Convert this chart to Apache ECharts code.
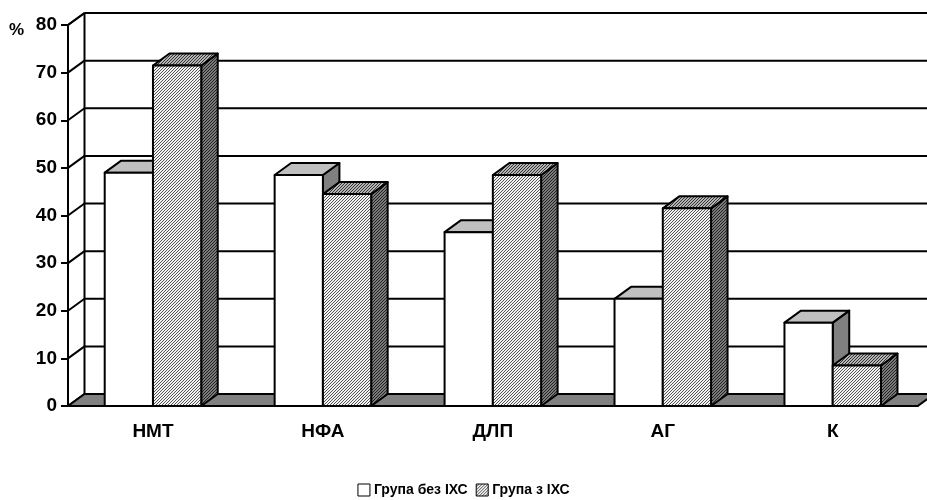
<!DOCTYPE html>
<html>
<head>
<meta charset="utf-8">
<script src="https://cdn.jsdelivr.net/npm/echarts@6/dist/echarts.min.js"></script>
<style>
  html, body { margin: 0; padding: 0; background: #fff; }
  #chart { width: 927px; height: 500px; }
</style>
</head>
<body>
<div id="chart"></div>
<script>
// Categories and values (%)
const categories = ['НМТ', 'НФА', 'ДЛП', 'АГ', 'К'];
const seriesNames = ['Група без ІХС', 'Група з ІХС'];
const withoutIHD = [49, 48.5, 36.5, 22.5, 17.5];
const withIHD = [71.5, 44.5, 48.5, 41.5, 8.5];
const yTicks = [0, 10, 20, 30, 40, 50, 60, 70, 80];

// 3D depth offset of the plot box
const DX = 16.5, DY = -12;
const BAR_RATIO = 0.284;
const FONT = 'Arial, "Liberation Sans", sans-serif';

// Fine diagonal hatch tile used for the second group
function hatch(bg, line) {
  const c = document.createElement('canvas');
  c.width = 3; c.height = 3;
  const g = c.getContext('2d');
  g.fillStyle = bg; g.fillRect(0, 0, 3, 3);
  g.fillStyle = line;
  for (let i = 0; i < 3; i++) g.fillRect(i, 2 - i, 1, 1);
  return { image: c, repeat: 'repeat' };
}
const hatchFront = hatch('#f2f2f2', '#555555');
const hatchTop = hatch('#b4b4b4', '#333333');
const hatchSide = hatch('#7a7a7a', '#222222');

const faces = [
  { front: '#ffffff', top: '#c0c0c0', side: '#808080' },
  { front: hatchFront, top: hatchTop, side: hatchSide }
];

const LINE = { stroke: '#000', lineWidth: 2 };

function plotBounds(api) {
  const band = api.size([1, 0])[0];
  const x0 = api.coord([0, 0])[0] - band / 2;
  const x1 = api.coord([categories.length - 1, 0])[0] + band / 2;
  return { band, x0, x1 };
}

// Back wall and its outline
function renderWall(params, api) {
  const b = plotBounds(api);
  const y0 = api.coord([0, 0])[1];
  const yTop = api.coord([0, yTicks[yTicks.length - 1]])[1];
  return {
    type: 'group',
    children: [
      { type: 'rect', shape: { x: b.x0 + DX, y: yTop + DY, width: b.x1 - b.x0 + 40, height: y0 - yTop },
        style: { fill: '#fff' } },
      { type: 'line', shape: { x1: b.x0 + DX, y1: yTop + DY, x2: b.x1 + DX + 40, y2: yTop + DY }, style: LINE },
      { type: 'line', shape: { x1: b.x0 + DX, y1: yTop + DY, x2: b.x0 + DX, y2: y0 + DY }, style: LINE },
      { type: 'line', shape: { x1: b.x0, y1: yTop, x2: b.x0 + DX, y2: yTop + DY }, style: LINE }
    ]
  };
}

// Gridlines on the back wall and the side wall
function renderGrid(params, api) {
  const b = plotBounds(api);
  const y = api.coord([0, api.value(1)])[1];
  return {
    type: 'group',
    children: [
      { type: 'line', shape: { x1: b.x0 + DX, y1: y + DY, x2: b.x1 + DX + 40, y2: y + DY }, style: LINE },
      { type: 'line', shape: { x1: b.x0, y1: y, x2: b.x0 + DX, y2: y + DY }, style: LINE }
    ]
  };
}

function renderFloor(params, api) {
  const b = plotBounds(api);
  const y0 = api.coord([0, 0])[1];
  return {
    type: 'polygon',
    shape: { points: [[b.x0, y0], [b.x1, y0], [b.x1 + DX, y0 + DY], [b.x0 + DX, y0 + DY]] },
    style: { fill: '#808080', stroke: '#000', lineWidth: 2 }
  };
}

function barRenderer(idx) {
  return function (params, api) {
    const cat = api.value(0);
    const top = api.coord([cat, api.value(1)]);
    const base = api.coord([cat, 0]);
    const w = api.size([1, 0])[0] * BAR_RATIO;
    const x = idx === 0 ? top[0] - w : top[0];
    const ty = top[1], by = base[1];
    const f = faces[idx];
    const st = (fill) => ({ fill: fill, stroke: '#000', lineWidth: 2, lineJoin: 'round' });
    return {
      type: 'group',
      children: [
        { type: 'polygon', shape: { points: [[x + w, ty], [x + w + DX, ty + DY], [x + w + DX, by + DY], [x + w, by]] }, style: st(f.side) },
        { type: 'polygon', shape: { points: [[x, ty], [x + w, ty], [x + w + DX, ty + DY], [x + DX, ty + DY]] }, style: st(f.top) },
        { type: 'rect', shape: { x: x, y: ty, width: w, height: by - ty }, style: st(f.front) }
      ]
    };
  };
}

const chart = echarts.init(document.getElementById('chart'), null, { renderer: 'canvas' });
chart.setOption({
  animation: false,
  backgroundColor: '#fff',
  grid: { left: 68, right: 9.3, top: 25, bottom: 94 },
  graphic: [
    { type: 'text', left: 9, top: 22, style: { text: '%', font: 'bold 17px ' + FONT, fill: '#000' } }
  ],
  legend: {
    left: 'center', top: 478,
    itemWidth: 12, itemHeight: 12, itemGap: 8,
    textStyle: { fontFamily: FONT, fontWeight: 'bold', fontSize: 14, color: '#000', padding: [0, 0, 0, -1] },
    data: [
      { name: seriesNames[0], icon: 'rect', itemStyle: { color: '#fff', borderColor: '#000', borderWidth: 1 } },
      { name: seriesNames[1], icon: 'rect', itemStyle: { color: hatchFront, borderColor: '#000', borderWidth: 1 } }
    ]
  },
  xAxis: {
    type: 'category',
    data: categories,
    axisLine: { lineStyle: { color: '#000', width: 2 } },
    axisTick: { length: 6, lineStyle: { color: '#000', width: 2 } },
    axisLabel: { margin: 16, color: '#000', fontFamily: FONT, fontWeight: 'bold', fontSize: 19 },
    splitLine: { show: false },
    z: 10
  },
  yAxis: {
    type: 'value',
    min: 0, max: 80, interval: 10,
    axisLine: { show: true, lineStyle: { color: '#000', width: 2 } },
    axisTick: { show: true, length: 7, lineStyle: { color: '#000', width: 2 } },
    axisLabel: { margin: 11, color: '#000', fontFamily: FONT, fontWeight: 'bold', fontSize: 19 },
    splitLine: { show: false },
    z: 10
  },
  series: [
    { type: 'custom', name: 'wall', data: [[0, 0]], renderItem: renderWall, clip: false, silent: true, z: 1 },
    { type: 'custom', name: 'grid', data: yTicks.map(v => [0, v]), renderItem: renderGrid, clip: false, silent: true, z: 2 },
    { type: 'custom', name: 'floor', data: [[0, 0]], renderItem: renderFloor, clip: false, silent: true, z: 3 },
    { type: 'custom', name: seriesNames[0], data: withoutIHD.map((v, i) => [i, v]), renderItem: barRenderer(0), clip: false, z: 4,
      itemStyle: { color: '#fff' } },
    { type: 'custom', name: seriesNames[1], data: withIHD.map((v, i) => [i, v]), renderItem: barRenderer(1), clip: false, z: 5,
      itemStyle: { color: hatchFront } }
  ]
});
</script>
</body>
</html>
